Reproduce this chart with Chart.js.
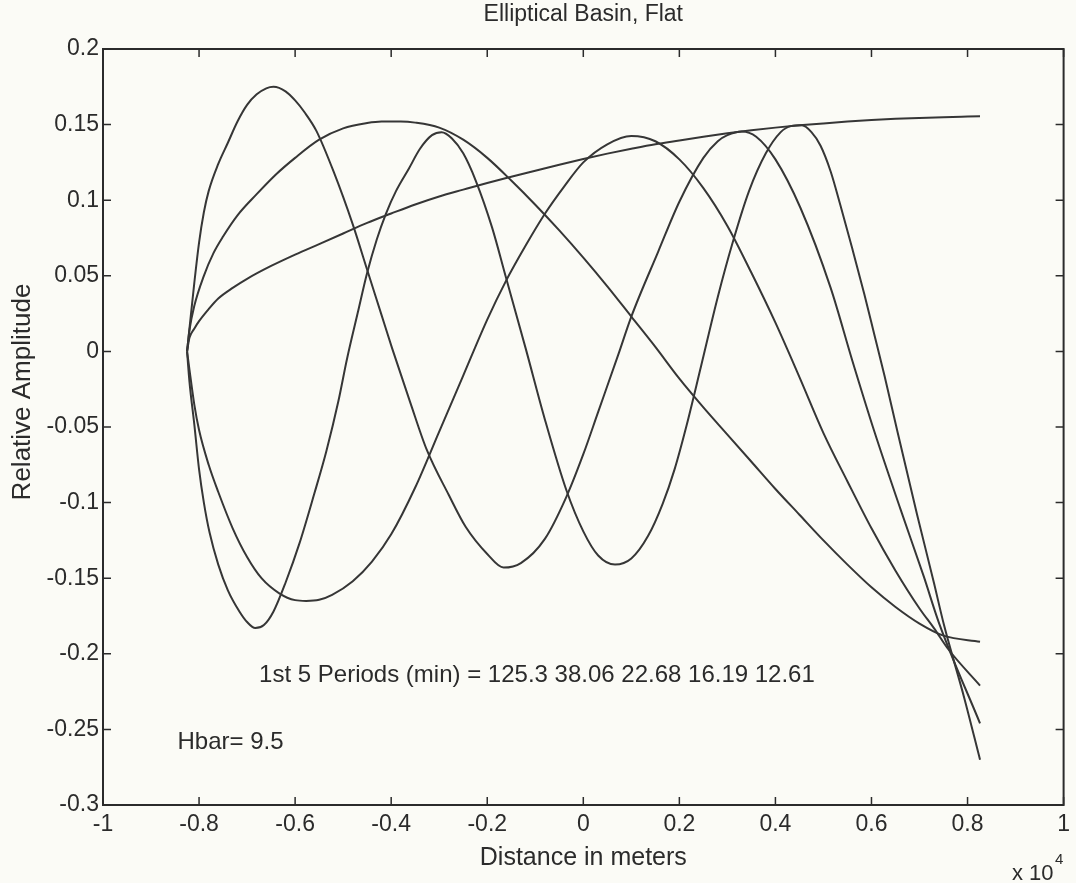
<!DOCTYPE html>
<html>
<head>
<meta charset="utf-8">
<title>Elliptical Basin, Flat</title>
<script src="https://cdn.jsdelivr.net/npm/chart.js@4.4.1/dist/chart.umd.min.js"></script>
<style>
    html, body { margin: 0; padding: 0; background: #fbfbf6; }
    #chart { display: block; }
</style>
</head>
<body>
<canvas id="chart" width="1076" height="883"></canvas>
<script>
// Mode shapes (x in units of 10^4 m)
const mode1X = [-0.825, -0.82, -0.81, -0.80, -0.78, -0.76, -0.73, -0.70, -0.65, -0.60, -0.55, -0.50, -0.45, -0.40, -0.35, -0.30, -0.25, -0.20, -0.15, -0.10, -0.05, 0.00, 0.05, 0.10, 0.15, 0.20, 0.25, 0.30, 0.35, 0.40, 0.45, 0.50, 0.55, 0.60, 0.65, 0.70, 0.75, 0.80, 0.826];
const mode1Y = [0, 0.009, 0.015, 0.020, 0.028, 0.035, 0.042, 0.048, 0.0565, 0.064, 0.071, 0.078, 0.085, 0.0912, 0.0972, 0.1025, 0.107, 0.1114, 0.1155, 0.1195, 0.1235, 0.1273, 0.1308, 0.134, 0.137, 0.1395, 0.142, 0.1443, 0.1463, 0.148, 0.1495, 0.1508, 0.152, 0.153, 0.1538, 0.1544, 0.1549, 0.1553, 0.1555];

const mode2X = [-0.825, -0.82, -0.81, -0.79, -0.77, -0.75, -0.72, -0.68, -0.64, -0.60, -0.55, -0.50, -0.45, -0.42, -0.38, -0.35, -0.30, -0.25, -0.20, -0.15, -0.10, -0.05, 0.00, 0.05, 0.10, 0.15, 0.20, 0.25, 0.30, 0.35, 0.40, 0.45, 0.50, 0.55, 0.60, 0.65, 0.70, 0.75, 0.826];
const mode2Y = [0, 0.014, 0.030, 0.050, 0.065, 0.076, 0.090, 0.104, 0.117, 0.128, 0.140, 0.1475, 0.151, 0.152, 0.152, 0.1513, 0.148, 0.140, 0.128, 0.113, 0.097, 0.080, 0.062, 0.043, 0.023, 0.003, -0.018, -0.037, -0.055, -0.073, -0.091, -0.108, -0.125, -0.141, -0.156, -0.169, -0.180, -0.188, -0.192];

const mode3X = [-0.825, -0.82, -0.81, -0.80, -0.78, -0.76, -0.73, -0.70, -0.67, -0.633, -0.60, -0.577, -0.55, -0.523, -0.48, -0.44, -0.40, -0.35, -0.30, -0.25, -0.20, -0.162, -0.12, -0.08, -0.04, 0.00, 0.05, 0.10, 0.15, 0.20, 0.25, 0.30, 0.35, 0.40, 0.45, 0.50, 0.55, 0.60, 0.65, 0.70, 0.73, 0.76, 0.826];
const mode3Y = [0, -0.012, -0.035, -0.052, -0.075, -0.093, -0.117, -0.136, -0.150, -0.160, -0.1645, -0.165, -0.1643, -0.161, -0.152, -0.139, -0.121, -0.090, -0.053, -0.016, 0.021, 0.046, 0.070, 0.091, 0.109, 0.125, 0.137, 0.1425, 0.139, 0.127, 0.108, 0.083, 0.052, 0.019, -0.017, -0.054, -0.086, -0.117, -0.145, -0.170, -0.183, -0.197, -0.221];

const mode4X = [-0.825, -0.82, -0.81, -0.80, -0.79, -0.78, -0.76, -0.74, -0.72, -0.70, -0.68, -0.66, -0.645, -0.62, -0.60, -0.58, -0.556, -0.52, -0.48, -0.45, -0.42, -0.398, -0.36, -0.326, -0.28, -0.245, -0.20, -0.166, -0.13, -0.08, -0.035, 0.00, 0.031, 0.073, 0.10, 0.156, 0.20, 0.25, 0.28, 0.30, 0.33, 0.36, 0.40, 0.452, 0.515, 0.56, 0.606, 0.66, 0.709, 0.741, 0.826];
const mode4Y = [0, 0.015, 0.045, 0.072, 0.092, 0.106, 0.124, 0.138, 0.152, 0.163, 0.170, 0.174, 0.175, 0.172, 0.166, 0.158, 0.146, 0.119, 0.084, 0.054, 0.024, 0.002, -0.034, -0.065, -0.095, -0.116, -0.134, -0.143, -0.140, -0.124, -0.096, -0.068, -0.040, -0.002, 0.023, 0.066, 0.099, 0.128, 0.139, 0.143, 0.1455, 0.142, 0.127, 0.095, 0.042, -0.006, -0.053, -0.104, -0.149, -0.180, -0.246];

const mode5X = [-0.825, -0.82, -0.81, -0.80, -0.79, -0.778, -0.76, -0.74, -0.716, -0.70, -0.683, -0.665, -0.645, -0.62, -0.591, -0.56, -0.535, -0.51, -0.492, -0.47, -0.45, -0.43, -0.411, -0.39, -0.363, -0.34, -0.315, -0.295, -0.274, -0.25, -0.224, -0.19, -0.162, -0.12, -0.08, -0.035, 0.00, 0.031, 0.066, 0.10, 0.135, 0.165, 0.19, 0.215, 0.245, 0.28, 0.311, 0.345, 0.38, 0.411, 0.432, 0.455, 0.475, 0.494, 0.515, 0.535, 0.56, 0.585, 0.606, 0.627, 0.654, 0.695, 0.73, 0.751, 0.793, 0.826];
const mode5Y = [0, -0.020, -0.048, -0.078, -0.100, -0.120, -0.141, -0.158, -0.172, -0.179, -0.183, -0.181, -0.172, -0.153, -0.127, -0.094, -0.066, -0.033, -0.005, 0.025, 0.052, 0.074, 0.091, 0.106, 0.121, 0.134, 0.143, 0.145, 0.141, 0.131, 0.113, 0.082, 0.050, 0.002, -0.045, -0.092, -0.119, -0.135, -0.141, -0.137, -0.122, -0.101, -0.078, -0.049, -0.010, 0.036, 0.072, 0.106, 0.131, 0.145, 0.149, 0.1495, 0.145, 0.136, 0.119, 0.097, 0.068, 0.038, 0.011, -0.016, -0.053, -0.108, -0.153, -0.181, -0.229, -0.270];

// Axis ranges and tick steps
const xRange = [-1, 1];
const yRange = [-0.3, 0.2];
const xStep = 0.2;
const yStep = 0.05;

// Text on the figure
const titleText = 'Elliptical Basin, Flat';
const xLabel = 'Distance in meters';
const yLabel = 'Relative Amplitude';
const periodsNote = '1st 5 Periods (min) = 125.3 38.06 22.68 16.19 12.61';
const hbarNote = 'Hbar= 9.5';

const ink = '#2b2b2b';
const lineInk = '#363636';
const fontFamily = '"Liberation Sans", Arial, Helvetica, sans-serif';

function toPoints(xs, ys) {
    return xs.map((x, i) => ({ x: x, y: ys[i] }));
}

function makeSet(xs, ys) {
    return {
        data: toPoints(xs, ys),
        borderColor: lineInk,
        borderWidth: 2,
        pointRadius: 0,
        fill: false,
        cubicInterpolationMode: 'monotone'
    };
}

function fmt(v) {
    return String(+v.toFixed(2));
}

// Frame, inward ticks on all sides, and the texts (MATLAB look)
const figurePlugin = {
    id: 'figure',
    beforeDraw(chart) {
        const ctx = chart.ctx;
        ctx.save();
        ctx.fillStyle = '#fbfbf6';
        ctx.fillRect(0, 0, chart.width, chart.height);
        ctx.restore();
    },
    afterDraw(chart) {
        const ctx = chart.ctx;
        const a = chart.chartArea;
        const xs = chart.scales.x;
        const ys = chart.scales.y;
        const tl = 8;

        ctx.save();
        ctx.strokeStyle = ink;
        ctx.lineWidth = 2;
        ctx.strokeRect(a.left, a.top, a.right - a.left, a.bottom - a.top);

        ctx.lineWidth = 1.5;
        ctx.beginPath();
        xs.ticks.forEach(t => {
            const px = xs.getPixelForValue(t.value);
            ctx.moveTo(px, a.bottom); ctx.lineTo(px, a.bottom - tl);
            ctx.moveTo(px, a.top); ctx.lineTo(px, a.top + tl);
        });
        ys.ticks.forEach(t => {
            const py = ys.getPixelForValue(t.value);
            ctx.moveTo(a.left, py); ctx.lineTo(a.left + tl, py);
            ctx.moveTo(a.right, py); ctx.lineTo(a.right - tl, py);
        });
        ctx.stroke();

        ctx.fillStyle = ink;
        const cx = (a.left + a.right) / 2;

        // title
        ctx.font = '23px ' + fontFamily;
        ctx.textAlign = 'center';
        ctx.textBaseline = 'alphabetic';
        ctx.fillText(titleText, cx, 21);

        // x label and exponent
        ctx.font = '25px ' + fontFamily;
        ctx.fillText(xLabel, cx, 865);
        ctx.textAlign = 'left';
        ctx.font = '22px ' + fontFamily;
        ctx.fillText('x 10', 1012, 880);
        ctx.font = '15px ' + fontFamily;
        ctx.fillText('4', 1055, 864);

        // y label
        ctx.save();
        ctx.translate(30, 392);
        ctx.rotate(-Math.PI / 2);
        ctx.textAlign = 'center';
        ctx.font = '26px ' + fontFamily;
        ctx.fillText(yLabel, 0, 0);
        ctx.restore();

        // notes placed in data coordinates
        ctx.textAlign = 'left';
        ctx.font = '24px ' + fontFamily;
        ctx.fillText(periodsNote, xs.getPixelForValue(-0.675), ys.getPixelForValue(-0.2185));
        ctx.fillText(hbarNote, xs.getPixelForValue(-0.845), ys.getPixelForValue(-0.263));
        ctx.restore();
    }
};

const ctx = document.getElementById('chart').getContext('2d');
new Chart(ctx, {
    type: 'line',
    data: {
        datasets: [
            makeSet(mode1X, mode1Y),
            makeSet(mode2X, mode2Y),
            makeSet(mode3X, mode3Y),
            makeSet(mode4X, mode4Y),
            makeSet(mode5X, mode5Y)
        ]
    },
    options: {
        responsive: false,
        animation: false,
        layout: { padding: { top: 49, right: 9, bottom: 0, left: 0 } },
        plugins: {
            legend: { display: false },
            tooltip: { enabled: false },
            title: { display: false }
        },
        scales: {
            x: {
                type: 'linear',
                min: xRange[0],
                max: xRange[1],
                grid: { display: false, drawTicks: false },
                border: { display: false },
                ticks: {
                    stepSize: xStep,
                    autoSkip: false,
                    maxRotation: 0,
                    padding: 6,
                    color: ink,
                    font: { family: fontFamily, size: 23 },
                    callback: fmt
                },
                afterFit(scale) { scale.height = 78; }
            },
            y: {
                type: 'linear',
                min: yRange[0],
                max: yRange[1],
                grid: { display: false, drawTicks: false },
                border: { display: false },
                ticks: {
                    stepSize: yStep,
                    autoSkip: false,
                    padding: 4,
                    color: ink,
                    font: { family: fontFamily, size: 23 },
                    callback: fmt
                },
                afterFit(scale) { scale.width = 103; }
            }
        }
    },
    plugins: [figurePlugin]
});
</script>
</body>
</html>
